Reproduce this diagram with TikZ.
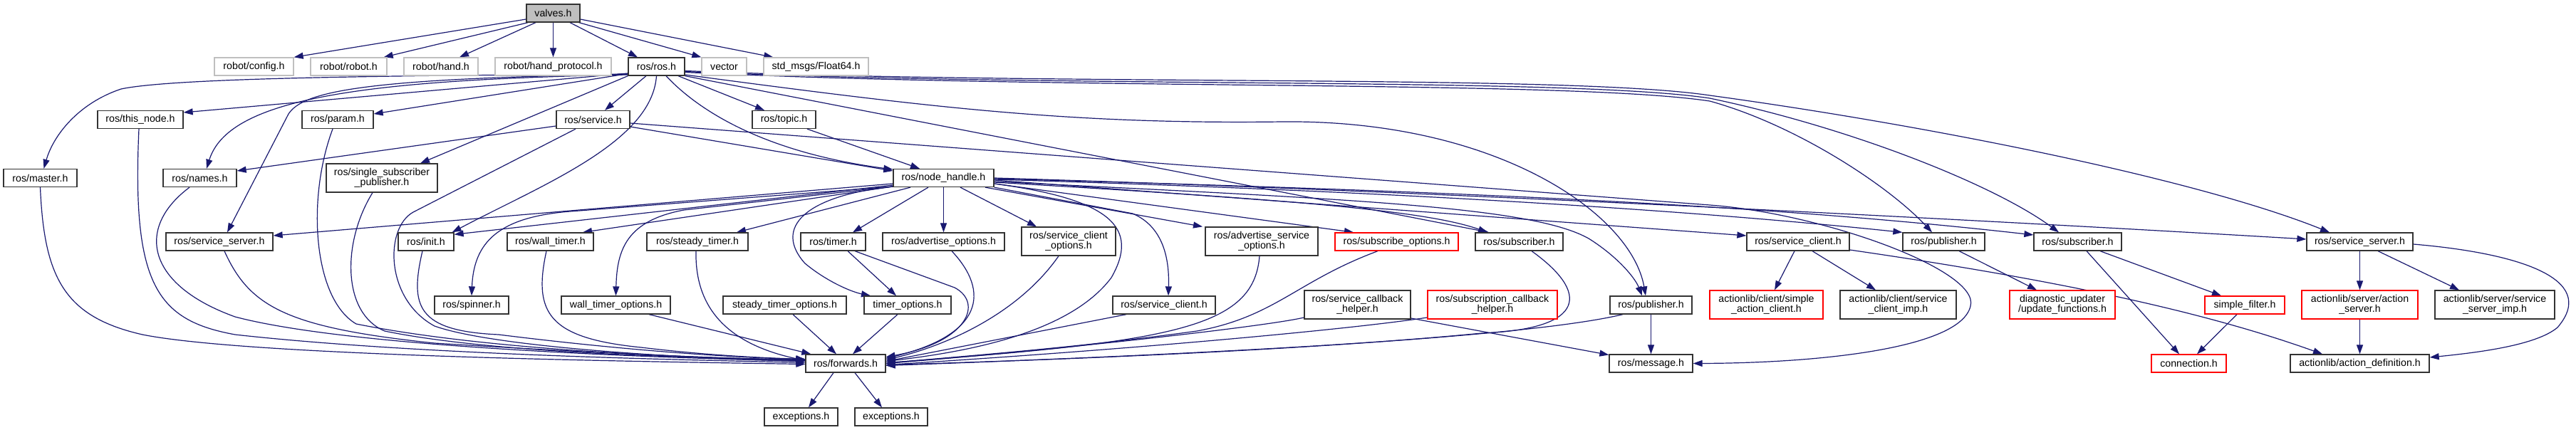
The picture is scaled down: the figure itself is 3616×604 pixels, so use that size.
\documentclass[tikz,border=0pt]{standalone}
\usepackage{fontspec}
\setmainfont{Liberation Sans}
\usetikzlibrary{arrows.meta}
\definecolor{edgeblue}{HTML}{191970}
\definecolor{greyseventyfive}{HTML}{BFBFBF}
\definecolor{nodeline}{HTML}{333333}
\definecolor{redline}{HTML}{FF0000}
\pgfdeclarelayer{bg}
\pgfsetlayers{bg,main}
\begin{document}
\begin{tikzpicture}[x=1pt,y=-1pt,
  box/.style={draw=nodeline,line width=1.3pt,fill=white,inner sep=0pt,minimum height=25pt,align=center,font=\fontsize{14.2pt}{14.5pt}\selectfont},
  tall/.style={minimum height=40pt},
  gbox/.style={box,draw=greyseventyfive},
  rbox/.style={box,draw=redline},
  arr/.style={draw=edgeblue,line width=1.2pt,line join=round,-{Triangle[length=13pt,width=9pt]}}]
\useasboundingbox (0,0) rectangle (3616,604);
% ---------- nodes ----------
\node[box,fill=greyseventyfive,minimum width=75pt] (valves) at (776.5,18.5) {valves.h};
\node[gbox,minimum width=111pt] (config) at (356.5,93.5) {robot/config.h};
\node[gbox,minimum width=107pt] (robot) at (489.5,93.5) {robot/robot.h};
\node[gbox,minimum width=104pt] (hand) at (619,93.5) {robot/hand.h};
\node[gbox,minimum width=163pt] (handproto) at (776.5,93.5) {robot/hand\_protocol.h};
\node[box,minimum width=79pt] (rosros) at (921.5,93.5) {ros/ros.h};
\node[gbox,minimum width=63pt] (vector) at (1016.5,93.5) {vector};
\node[gbox,minimum width=147pt] (float) at (1145.5,93.5) {std\_msgs/Float64.h};
\node[box,minimum width=120pt] (thisnode) at (197,168) {ros/this\_node.h};
\node[box,minimum width=100pt] (param) at (474,168) {ros/param.h};
\node[box,minimum width=103pt] (service) at (832.5,168) {ros/service.h};
\node[box,minimum width=89pt] (topic) at (1100.5,168) {ros/topic.h};
\node[box,minimum width=103pt] (master) at (56.5,250) {ros/master.h};
\node[box,minimum width=103pt] (names) at (280.5,250) {ros/names.h};
\node[box,tall,minimum width=156pt] (ssp) at (536,250) {ros/single\_subscriber\\\_publisher.h};
\node[box,minimum width=141pt] (nodehandle) at (1324.5,250) {ros/node\_handle.h};
\node[box,minimum width=150pt] (srvserverL) at (308,339.5) {ros/service\_server.h};
\node[box,minimum width=78pt] (init) at (598,339.5) {ros/init.h};
\node[box,minimum width=121pt] (walltimer) at (772.5,339.5) {ros/wall\_timer.h};
\node[box,minimum width=142pt] (steadytimer) at (979,339.5) {ros/steady\_timer.h};
\node[box,minimum width=91pt] (timer) at (1169.5,339.5) {ros/timer.h};
\node[box,minimum width=171pt] (advopts) at (1324.5,339.5) {ros/advertise\_options.h};
\node[box,tall,minimum width=132pt] (srvclientopts) at (1500,339) {ros/service\_client\\\_options.h};
\node[box,tall,minimum width=158pt] (advsrvopts) at (1771,339) {ros/advertise\_service\\\_options.h};
\node[rbox,minimum width=173pt] (subopts) at (1960.5,339.5) {ros/subscribe\_options.h};
\node[box,minimum width=123pt] (subscriberM) at (2132.5,339.5) {ros/subscriber.h};
\node[box,minimum width=144pt] (srvclientR) at (2524,339.5) {ros/service\_client.h};
\node[box,minimum width=115pt] (publisherR) at (2728.5,339.5) {ros/publisher.h};
\node[box,minimum width=123pt] (subscriberR) at (2916.5,339.5) {ros/subscriber.h};
\node[box,minimum width=149pt] (srvserverR) at (3312.5,339.5) {ros/service\_server.h};
\node[box,minimum width=104pt] (spinner) at (662,428.5) {ros/spinner.h};
\node[box,minimum width=153pt] (walltimeropts) at (864.5,428.5) {wall\_timer\_options.h};
\node[box,minimum width=173pt] (steadytimeropts) at (1101.5,428.5) {steady\_timer\_options.h};
\node[box,minimum width=122pt] (timeropts) at (1274,428.5) {timer\_options.h};
\node[box,minimum width=144pt] (srvclientM) at (1634,428.5) {ros/service\_client.h};
\node[box,tall,minimum width=149pt] (srvcbhelper) at (1905.5,428) {ros/service\_callback\\\_helper.h};
\node[rbox,tall,minimum width=182pt] (subcbhelper) at (2095,428) {ros/subscription\_callback\\\_helper.h};
\node[box,minimum width=115pt] (publisherM) at (2317.5,428.5) {ros/publisher.h};
\node[rbox,tall,minimum width=159pt] (simpleac) at (2479.5,428) {actionlib/client/simple\\\_action\_client.h};
\node[box,tall,minimum width=163pt] (srvclientimp) at (2664.5,428) {actionlib/client/service\\\_client\_imp.h};
\node[rbox,tall,minimum width=148pt] (updatefns) at (2895,428) {diagnostic\_updater\\/update\_functions.h};
\node[rbox,minimum width=112pt] (simplefilter) at (3151,428.5) {simple\_filter.h};
\node[rbox,tall,minimum width=163pt] (actionserver) at (3312.5,428) {actionlib/server/action\\\_server.h};
\node[box,tall,minimum width=168pt] (srvserverimp) at (3502,428) {actionlib/server/service\\\_server\_imp.h};
\node[box,minimum width=112pt] (forwards) at (1187,510.5) {ros/forwards.h};
\node[box,minimum width=117pt] (message) at (2317.5,510.5) {ros/message.h};
\node[rbox,minimum width=105pt] (connection) at (3072.5,510.5) {connection.h};
\node[box,minimum width=195pt] (actiondef) at (3312.5,510.5) {actionlib/action\_definition.h};
\node[box,minimum width=103pt] (exca) at (1124.5,585.5) {exceptions.h};
\node[box,minimum width=102pt] (excb) at (1251,585.5) {exceptions.h};
% ---------- edges ----------
\begin{pgfonlayer}{bg}
\fill[white] (0,0) rectangle (3616,604);
% valves.h
\draw[arr] ([yshift=-8.5pt]valves.west) -- (config.north east);
\draw[arr] ([xshift=3pt]valves.south west) -- ([xshift=-5pt]robot.north east);
\draw[arr] ([xshift=-24.5pt]valves.south) -- ([xshift=26pt]hand.north);
\draw[arr] (valves.south) -- (handproto.north);
\draw[arr] ([xshift=23.5pt]valves.south) -- ([xshift=-26.5pt]rosros.north);
\draw[arr] ([xshift=-2pt]valves.south east) -- (vector.north west);
\draw[arr] ([yshift=-8.5pt]valves.east) -- ([xshift=14pt]float.north west);
% ros/ros.h
\draw[arr] ([yshift=-10.5pt]rosros.west) .. controls (600,106) and (250,108) .. (170,125) .. controls (110,145) and (75,190) .. ([xshift=5pt]master.north);
\draw[arr] ([yshift=-9.5pt]rosros.west) -- ([yshift=10pt]thisnode.east);
\draw[arr] ([yshift=-11.5pt]rosros.west) .. controls (500,112) and (320,140) .. ([xshift=9.5pt]names.north);
\draw[arr] ([yshift=-11pt]rosros.west) .. controls (500,110) and (425,130) .. (405,160) -- ([xshift=11pt]srvserverL.north);
\draw[arr] ([yshift=-10pt]rosros.west) -- ([yshift=8pt]param.east);
\draw[arr] (rosros.south west) -- ([xshift=54pt]ssp.north);
\draw[arr] ([xshift=-14.5pt]rosros.south) -- ([xshift=16.5pt]service.north);
\draw[arr] ([xshift=30.5pt]rosros.south) -- ([xshift=-27.5pt]topic.north);
\draw[arr] ([xshift=13.5pt]rosros.south) .. controls (985,160) and (1080,215) .. ([yshift=12pt]nodehandle.west);
\draw[arr] (rosros.south) .. controls (915,200) and (760,260) .. ([xshift=-3pt]init.north east);
\draw[arr] (rosros.south east) -- ([xshift=-42.5pt]subscriberM.north);
\draw[arr] ([yshift=-11.5pt]rosros.east) .. controls (1300,150) and (1500,175) .. (1800,171) .. controls (2100,168) and (2290,300) .. ([xshift=-7.5pt]publisherM.north);
\draw[arr] ([yshift=-8pt]rosros.east) .. controls (1500,127) and (2200,112) .. (2400,142) .. controls (2520,175) and (2650,260) .. ([xshift=-16.5pt]publisherR.north);
\draw[arr] ([yshift=-7pt]rosros.east) .. controls (1500,124) and (2200,108) .. (2400,138) .. controls (2600,180) and (2800,260) .. ([xshift=-26.5pt]subscriberR.north);
\draw[arr] ([yshift=-6pt]rosros.east) .. controls (1500,121) and (2200,104) .. (2400,134) .. controls (2700,175) and (3080,250) .. ([xshift=-42.5pt]srvserverR.north);
% ros/service.h
\draw[arr] ([yshift=-9pt]service.west) -- ([yshift=10pt]names.east);
\draw[arr] ([xshift=-24.5pt]service.south) -- (580,298) .. controls (540,320) and (540,420) .. (610,458) .. controls (700,490) and (1000,505) .. ([yshift=3.5pt]forwards.west);
\draw[arr] ([yshift=-10pt]service.east) -- ([yshift=10pt]nodehandle.west);
\draw[arr] ([yshift=-5pt]service.east) -- (2400,288) .. controls (2560,300) and (2780,380) .. (2766,430) .. controls (2752,490) and (2550,510) .. (message.east);
% ros/topic.h
\draw[arr] ([xshift=32.5pt]topic.south) -- ([xshift=-33.5pt]nodehandle.north);
% into ros/forwards.h from the left
\draw[arr] (master.south) .. controls (62,390) and (90,445) .. (200,470) .. controls (350,500) and (900,508) .. ([yshift=-1pt]forwards.west);
\draw[arr] ([xshift=-2pt]thisnode.south) .. controls (185,400) and (220,450) .. (330,470) .. controls (600,500) and (1000,506) .. ([yshift=1pt]forwards.west);
\draw[arr] ([xshift=-14.5pt]names.south) .. controls (190,320) and (205,400) .. (330,445) .. controls (500,490) and (950,503) .. ([yshift=3pt]forwards.west);
\draw[arr] ([xshift=7pt]srvserverL.south) .. controls (350,430) and (400,460) .. (610,482) .. controls (900,500) and (1050,504) .. ([yshift=4pt]forwards.west);
\draw[arr] ([xshift=-7pt]param.south) .. controls (430,280) and (440,420) .. (500,455) .. controls (700,495) and (1000,503) .. ([yshift=5pt]forwards.west);
\draw[arr] ([xshift=-13pt]ssp.south) .. controls (480,340) and (480,440) .. (540,465) .. controls (700,498) and (1000,503) .. ([yshift=5pt]forwards.west);
\draw[arr] ([xshift=-5pt]init.south) .. controls (575,430) and (585,465) .. (700,470) .. controls (900,495) and (1050,503) .. ([yshift=6pt]forwards.west);
\draw[arr] ([xshift=-5.5pt]walltimer.south) .. controls (748,440) and (770,475) .. (900,488) .. controls (1000,500) and (1080,503) .. ([yshift=6pt]forwards.west);
\draw[arr] ([xshift=46.5pt]walltimeropts.south) -- ([xshift=8pt]forwards.north west);
\draw[arr] ([xshift=-2pt]steadytimer.south) .. controls (975,440) and (1030,485) .. ([yshift=4pt]forwards.west);
\draw[arr] ([xshift=11.5pt]steadytimeropts.south) -- ([xshift=-13pt]forwards.north);
% timers
\draw[arr] ([xshift=30.5pt]timer.south) -- (1340,404) .. controls (1380,425) and (1360,480) .. ([yshift=9pt]forwards.east);
\draw[arr] ([xshift=20.5pt]timer.south) -- ([xshift=-16pt]timeropts.north);
\draw[arr] ([xshift=-14pt]timeropts.south) -- ([xshift=10pt]forwards.north);
% into ros/forwards.h from the right
\draw[arr] ([xshift=11.5pt]advopts.south) .. controls (1390,410) and (1380,470) .. ([yshift=7pt]forwards.east);
\draw[arr] ([xshift=-14pt]srvclientopts.south) .. controls (1430,440) and (1330,485) .. ([yshift=5pt]forwards.east);
\draw[arr] ([yshift=-8pt]nodehandle.east) .. controls (1560,280) and (1600,320) .. (1560,390) .. controls (1500,470) and (1350,495) .. ([yshift=3pt]forwards.east);
\draw[arr] ([xshift=-53pt]srvclientM.south) -- ([yshift=3pt]forwards.east);
\draw[arr] ([xshift=-3pt]advsrvopts.south) .. controls (1760,460) and (1650,480) .. ([yshift=1pt]forwards.east);
\draw[arr] ([xshift=-26.5pt]subopts.south) .. controls (1820,395) and (1790,445) .. (1680,465) .. controls (1500,490) and (1350,500) .. (forwards.east);
\draw[arr] ([xshift=17.5pt]subscriberM.south) .. controls (2230,410) and (2230,462) .. (2080,468) .. controls (1800,495) and (1400,508) .. ([yshift=-2pt]forwards.east);
\draw[arr] ([yshift=-18pt]srvcbhelper.west) .. controls (1780,458) and (1500,490) .. (forwards.east);
\draw[arr] ([yshift=-18pt]subcbhelper.west) .. controls (1900,462) and (1600,490) .. ([yshift=-2pt]forwards.east);
\draw[arr] ([xshift=-39.5pt]publisherM.south) .. controls (2180,465) and (1900,490) .. ([yshift=-3pt]forwards.east);
% ros/message.h, exceptions.h
\draw[arr] ([yshift=-19pt]srvcbhelper.east) -- ([yshift=12pt]message.west);
\draw[arr] (publisherM.south) -- (message.north);
\draw[arr] ([xshift=-17pt]forwards.south) -- ([xshift=10.5pt]exca.north);
\draw[arr] ([xshift=13pt]forwards.south) -- ([xshift=-13pt]excb.north);
% ros/node_handle.h
\draw[arr] ([yshift=-8pt]nodehandle.west) -- ([yshift=8.5pt]srvserverL.east);
\draw[arr] ([yshift=-10pt]nodehandle.west) -- ([yshift=-3pt]init.north east);
\draw[arr] ([yshift=-12pt]nodehandle.west) -- (800,297) .. controls (700,305) and (665,340) .. (spinner.north);
\draw[arr] ([yshift=-12pt]nodehandle.west) -- ([xshift=45.5pt]walltimer.north);
\draw[arr] ([yshift=-12pt]nodehandle.west) -- (960,295) .. controls (880,310) and (866,350) .. (walltimeropts.north);
\draw[arr] ([xshift=-46.5pt]nodehandle.south) -- ([xshift=55pt]steadytimer.north);
\draw[arr] ([xshift=-21.5pt]nodehandle.south) -- ([xshift=27.5pt]timer.north);
\draw[arr] ([yshift=-12pt]nodehandle.west) .. controls (1130,275) and (1085,320) .. (1130,370) .. controls (1160,395) and (1195,410) .. ([xshift=-52pt]timeropts.north);
\draw[arr] (nodehandle.south) -- (advopts.north);
\draw[arr] ([xshift=23.5pt]nodehandle.south) -- ([xshift=-45pt]srvclientopts.north);
\draw[arr] ([xshift=58.5pt]nodehandle.south) -- ([xshift=-83pt]advsrvopts.north);
\draw[arr] (nodehandle.south east) -- (1590,300) .. controls (1625,315) and (1642,350) .. ([xshift=6pt]srvclientM.north);
\draw[arr] ([yshift=-8pt]nodehandle.east) -- ([xshift=-60.5pt]subopts.north);
\draw[arr] ([yshift=-6pt]nodehandle.east) .. controls (1800,280) and (2000,295) .. ([xshift=-44.5pt]subscriberM.north);
\draw[arr] ([yshift=-5pt]nodehandle.east) .. controls (1900,280) and (2150,290) .. (2230,335) .. controls (2270,360) and (2295,390) .. ([xshift=-12.5pt]publisherM.north);
\draw[arr] ([yshift=-3pt]nodehandle.east) -- ([yshift=8.5pt]srvclientR.west);
\draw[arr] ([yshift=-2pt]nodehandle.east) .. controls (2000,270) and (2400,298) .. (publisherR.north west);
\draw[arr] ([yshift=-1pt]nodehandle.east) .. controls (2100,270) and (2500,290) .. ([yshift=9.5pt]subscriberR.west);
\draw[arr] (nodehandle.east) .. controls (2000,268) and (2800,310) .. ([yshift=3.5pt]srvserverR.west);
% right-hand part
\draw[arr] ([xshift=-5pt]srvclientR.south) -- ([xshift=11.5pt]simpleac.north);
\draw[arr] ([xshift=20pt]srvclientR.south) -- ([xshift=-31.5pt]srvclientimp.north);
\draw[arr] ([yshift=-11.5pt]srvclientR.east) .. controls (2900,395) and (3100,440) .. ([xshift=-52.5pt]actiondef.north);
\draw[arr] ([xshift=21.5pt]publisherR.south) -- ([xshift=-36pt]updatefns.north);
\draw[arr] ([xshift=31.5pt]subscriberR.south) -- ([xshift=-33pt]simplefilter.north);
\draw[arr] ([xshift=12.5pt]subscriberR.south) -- ([xshift=-13.5pt]connection.north);
\draw[arr] ([xshift=-11pt]simplefilter.south) -- ([xshift=11.5pt]connection.north);
\draw[arr] (srvserverR.south) -- (actionserver.north);
\draw[arr] ([xshift=25.5pt]srvserverR.south) -- ([xshift=-50pt]srvserverimp.north);
\draw[arr] ([yshift=-3.5pt]srvserverR.east) .. controls (3530,355) and (3650,390) .. (3590,460) .. controls (3560,485) and (3480,495) .. ([yshift=8.5pt]actiondef.east);
\draw[arr] (actionserver.south) -- (actiondef.north);
\end{pgfonlayer}
\end{tikzpicture}
\end{document}
